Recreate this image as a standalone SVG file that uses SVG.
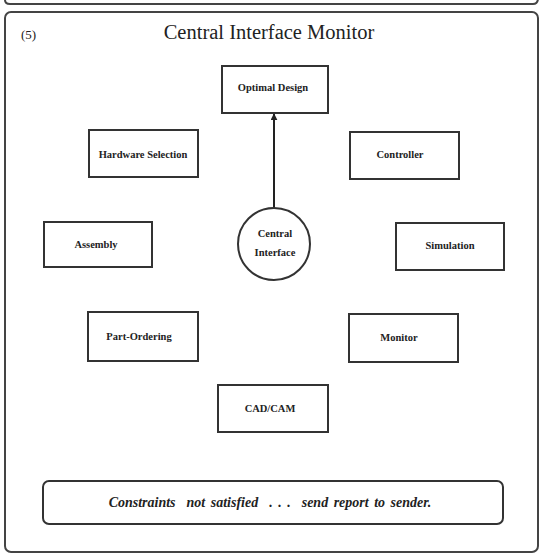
<svg xmlns="http://www.w3.org/2000/svg" width="541" height="555" viewBox="0 0 541 555">
<style>
.box{fill:#fff;stroke:#333;stroke-width:2}
.lbl{font-family:"Liberation Serif",serif;font-size:10.5px;font-weight:bold;fill:#222;text-anchor:middle}
.frame{fill:none;stroke:#444;stroke-width:2}
</style>
<defs>
<marker id="ah" viewBox="0 0 10 10" refX="9" refY="5" markerWidth="7" markerHeight="7" orient="auto" markerUnits="userSpaceOnUse">
<path d="M0,0 L10,5 L0,10 z" fill="#222"/>
</marker>
</defs>
<rect width="541" height="555" fill="#fff"/>
<path class="frame" d="M5,-10 V0 Q5,4 10,4 H533 Q538,4 538,-2"/>
<rect class="frame" x="5" y="12" width="533" height="540" rx="6"/>
<text x="21" y="39" font-family="Liberation Serif,serif" font-size="13" fill="#222">(5)</text>
<text x="269" y="39" font-family="Liberation Serif,serif" font-size="20.5" fill="#222" text-anchor="middle">Central Interface Monitor</text>
<g id="connectors">
<line x1="274" y1="208" x2="274" y2="114" stroke="#222" stroke-width="2" marker-end="url(#ah)"/>
</g>
<g id="optimal-design"><rect class="box" x="222" y="66" width="106" height="47"/><text class="lbl" x="273" y="91">Optimal Design</text></g>
<g id="hardware-selection"><rect class="box" x="89" y="130" width="109" height="47"/><text class="lbl" x="143" y="158">Hardware Selection</text></g>
<g id="controller"><rect class="box" x="350" y="132" width="109" height="47"/><text class="lbl" x="400" y="158">Controller</text></g>
<g id="assembly"><rect class="box" x="44" y="222" width="108" height="45"/><text class="lbl" x="96" y="248">Assembly</text></g>
<g id="central-interface"><circle class="box" cx="274" cy="244" r="36"/><text class="lbl" x="275" y="237">Central</text><text class="lbl" x="275" y="256">Interface</text></g>
<g id="simulation"><rect class="box" x="396" y="223" width="108" height="47"/><text class="lbl" x="450" y="249">Simulation</text></g>
<g id="part-ordering"><rect class="box" x="88" y="312" width="110" height="49"/><text class="lbl" x="139" y="340">Part-Ordering</text></g>
<g id="monitor"><rect class="box" x="349" y="314" width="109" height="48"/><text class="lbl" x="399" y="341">Monitor</text></g>
<g id="cadcam"><rect class="box" x="218" y="385" width="110" height="47"/><text class="lbl" x="270" y="412">CAD/CAM</text></g>
<g id="message"><rect class="box" x="43" y="481" width="460" height="43" rx="6"/><text x="270" y="507" font-family="Liberation Serif,serif" font-size="14" font-weight="bold" font-style="italic" fill="#222" text-anchor="middle" word-spacing="2" xml:space="preserve">Constraints  not satisfied  . . .  send report to sender.</text></g>
</svg>
